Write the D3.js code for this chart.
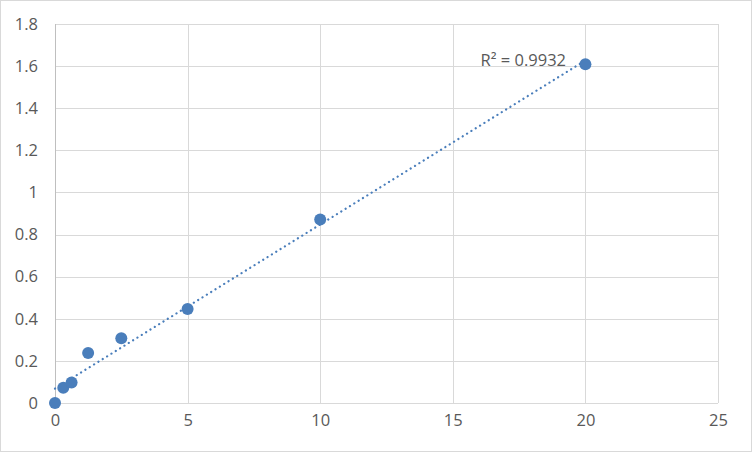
<!DOCTYPE html>
<html><head><meta charset="utf-8">
<script src="https://cdn.jsdelivr.net/npm/d3@7"></script>
<style>body{margin:0;background:#fff}svg{display:block}</style>
</head><body>
<script>
const xValues = [0, 0.3125, 0.625, 1.25, 2.5, 5, 10, 20];
const yValues = [0, 0.072, 0.097, 0.237, 0.308, 0.446, 0.872, 1.609];
const xTicks = [0, 5, 10, 15, 20, 25];
const yTicks = [0, 0.2, 0.4, 0.6, 0.8, 1, 1.2, 1.4, 1.6, 1.8];
const r2Label = "R² = 0.9932";

const W = 752, H = 452;
const m = {left: 55, right: 34, top: 24, bottom: 49};
const svg = d3.select("body").append("svg").attr("width", W).attr("height", H);
svg.append("rect").attr("x", 0.5).attr("y", 0.5).attr("width", W - 1).attr("height", H - 1)
  .attr("fill", "#fff").attr("stroke", "#d9d9d9");

const x = d3.scaleLinear().domain([0, 25]).range([m.left, W - m.right]);
const y = d3.scaleLinear().domain([0, 1.8]).range([H - m.bottom, m.top]);
const font = "'Open Sans', sans-serif";
const fs = 16.5;

// gridlines
svg.append("g").selectAll("line").data(yTicks).join("line")
  .attr("x1", x(0)).attr("x2", x(25)).attr("y1", d => Math.round(y(d)) + 0.5).attr("y2", d => Math.round(y(d)) + 0.5)
  .attr("stroke", "#d9d9d9").attr("stroke-width", 1);
svg.append("g").selectAll("line").data(xTicks).join("line")
  .attr("y1", y(0)).attr("y2", y(1.8)).attr("x1", d => Math.round(x(d)) + 0.5).attr("x2", d => Math.round(x(d)) + 0.5)
  .attr("stroke", d => d === 0 ? "#bfbfbf" : "#d9d9d9").attr("stroke-width", 1);

// axis labels via d3 axes
const xAxis = svg.append("g").attr("transform", `translate(0,${y(0)})`)
  .call(d3.axisBottom(x).tickValues(xTicks).tickSize(0).tickPadding(11).tickFormat(d3.format("d")));
xAxis.select(".domain").remove();
const yAxis = svg.append("g").attr("transform", `translate(${x(0)},0)`)
  .call(d3.axisLeft(y).tickValues(yTicks).tickSize(0).tickPadding(17).tickFormat(d => String(+d.toFixed(1))));
yAxis.select(".domain").remove();
svg.selectAll(".tick text").attr("font-family", font).attr("font-size", fs).attr("fill", "#595959");

// linear trendline (least squares)
const n = xValues.length;
const mx = d3.mean(xValues), my = d3.mean(yValues);
let sxy = 0, sxx = 0;
for (let i = 0; i < n; i++) { sxy += (xValues[i] - mx) * (yValues[i] - my); sxx += (xValues[i] - mx) ** 2; }
const slope = sxy / sxx, icpt = my - slope * mx;
const x0 = d3.min(xValues), x1 = d3.max(xValues);
svg.append("line")
  .attr("x1", x(x0)).attr("y1", y(icpt + slope * x0))
  .attr("x2", x(x1)).attr("y2", y(icpt + slope * x1))
  .attr("stroke", "#4a7ebb").attr("stroke-width", 2.2).attr("stroke-dasharray", "0.1 5").attr("stroke-linecap", "round");

// points
svg.append("g").selectAll("circle").data(xValues.map((d, i) => [d, yValues[i]])).join("circle")
  .attr("cx", d => x(d[0])).attr("cy", d => y(d[1])).attr("r", 6)
  .attr("fill", "#4a7ebb");

svg.append("text").attr("x", 566).attr("y", 66).attr("text-anchor", "end")
  .attr("font-family", font).attr("font-size", fs).attr("fill", "#595959").text(r2Label);
</script>
</body></html>
